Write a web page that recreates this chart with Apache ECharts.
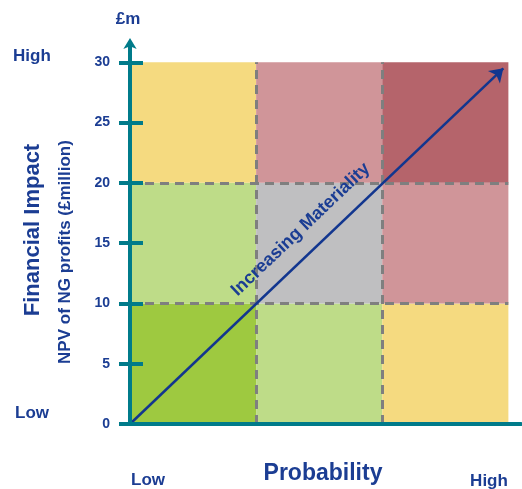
<!DOCTYPE html>
<html><head><meta charset="utf-8">
<script src="https://cdn.jsdelivr.net/npm/echarts@6/dist/echarts.min.js"></script>
<style>html,body{margin:0;padding:0;background:#fff}#c{width:522px;height:489px}</style>
</head><body><div id="c"></div>
<script>
// Probability bands (x) and financial impact bands (y, £m)
const probabilityBands = [0, 1, 2, 3];
const impactBands = [0, 10, 20, 30];
const impactTicks = [0, 5, 10, 15, 20, 25, 30];
// Cell colours by impact row (bottom to top) and probability column (left to right)
const cellColours = [
  ['#9EC940', '#BEDC88', '#F5DA80'],
  ['#BEDC88', '#BFBFC1', '#D09599'],
  ['#F5DA80', '#D09599', '#B5646B']
];
// Materiality trend: origin and arrow tip
const materialityLine = [[0, 0], [2.96, 29.5]];

const NAVY = '#1B3D93';
const TEAL = '#007B8A';
const FONT = '"Liberation Sans", Arial, sans-serif';

const cells = [];
for (let r = 0; r < 3; r++) {
  for (let c = 0; c < 3; c++) {
    cells.push({
      value: [probabilityBands[c], probabilityBands[c + 1], impactBands[r], impactBands[r + 1]],
      itemStyle: { color: cellColours[r][c] }
    });
  }
}

const xMax = probabilityBands[probabilityBands.length - 1];
const yMax = impactBands[impactBands.length - 1];
const boundaries = [];
probabilityBands.slice(1, -1).forEach(v => boundaries.push([{ coord: [v, 0] }, { coord: [v, yMax] }]));
impactBands.slice(1, -1).forEach(v => boundaries.push([{ coord: [0, v] }, { coord: [xMax, v] }]));

const chart = echarts.init(document.getElementById('c'), null, { renderer: 'canvas' });
chart.setOption({
  animation: false,
  grid: { left: 130, right: 1, top: 43, bottom: 65 },
  xAxis: {
    type: 'value', min: 0, max: 3.1, z: 5,
    axisLine: { lineStyle: { color: TEAL, width: 4 } },
    axisTick: { show: false }, axisLabel: { show: false }, splitLine: { show: false }
  },
  yAxis: [{
    type: 'value', min: 0, max: 31.6, position: 'left', z: 5,
    axisLine: { lineStyle: { color: TEAL, width: 4 }, symbol: ['none', 'arrow'], symbolSize: [10, 11], symbolOffset: [0, 5] },
    axisTick: { show: true, length: 11, customValues: impactTicks, lineStyle: { color: TEAL, width: 4 } },
    axisLabel: { customValues: impactTicks, margin: 20, color: NAVY, fontSize: 14, fontWeight: 'bold', fontFamily: FONT },
    splitLine: { show: false }
  }, {
    type: 'value', min: 0, max: 31.6, position: 'left', offset: 0, z: 5,
    axisLine: { show: false },
    axisTick: { show: true, inside: true, length: 13, customValues: impactTicks, lineStyle: { color: TEAL, width: 4 } },
    axisLabel: { show: false }, splitLine: { show: false }
  }],
  series: [{
    type: 'custom', z: 1, silent: true,
    data: cells,
    renderItem(params, api) {
      const p0 = api.coord([api.value(0), api.value(3)]);
      const p1 = api.coord([api.value(1), api.value(2)]);
      return { type: 'rect', shape: { x: p0[0], y: p0[1], width: p1[0] - p0[0], height: p1[1] - p0[1] },
               style: { fill: api.visual('color') } };
    }
  }, {
    type: 'line', data: [], z: 2, silent: true,
    markLine: {
      silent: true, symbol: ['none', 'none'], label: { show: false },
      lineStyle: { color: '#7F7F7F', width: 3, type: [9, 6] },
      data: boundaries
    }
  }, {
    type: 'line', data: [], z: 6, silent: true,
    markLine: {
      silent: true, symbol: ['none', 'arrow'], symbolSize: 13,
      lineStyle: { color: '#12368F', width: 2.5, type: 'solid' },
      label: { show: true, position: 'middle', formatter: 'Increasing Materiality', distance: 14,
               color: NAVY, fontSize: 18, fontWeight: 'bold', fontFamily: FONT },
      data: [[{ coord: materialityLine[0] }, { coord: materialityLine[1] }]]
    }
  }],
  graphic: [
    { type: 'text', x: 128, y: 19, style: { text: '£m', align: 'center', verticalAlign: 'middle', fill: NAVY, font: 'bold 17px ' + FONT } },
    { type: 'text', x: 13, y: 56, style: { text: 'High', align: 'left', verticalAlign: 'middle', fill: NAVY, font: 'bold 17px ' + FONT } },
    { type: 'text', x: 15, y: 413, style: { text: 'Low', align: 'left', verticalAlign: 'middle', fill: NAVY, font: 'bold 17px ' + FONT } },
    { type: 'text', x: 33, y: 230, rotation: Math.PI / 2, style: { text: 'Financial Impact', align: 'center', verticalAlign: 'middle', fill: NAVY, font: 'bold 22px ' + FONT } },
    { type: 'text', x: 65, y: 252, rotation: Math.PI / 2, style: { text: 'NPV of NG profits (£million)', align: 'center', verticalAlign: 'middle', fill: NAVY, font: 'bold 17px ' + FONT } },
    { type: 'text', x: 148, y: 480, style: { text: 'Low', align: 'center', verticalAlign: 'middle', fill: NAVY, font: 'bold 17px ' + FONT } },
    { type: 'text', x: 323, y: 474, style: { text: 'Probability', align: 'center', verticalAlign: 'middle', fill: NAVY, font: 'bold 23px ' + FONT } },
    { type: 'text', x: 489, y: 481, style: { text: 'High', align: 'center', verticalAlign: 'middle', fill: NAVY, font: 'bold 17px ' + FONT } }
  ]
});
</script>
</body></html>
